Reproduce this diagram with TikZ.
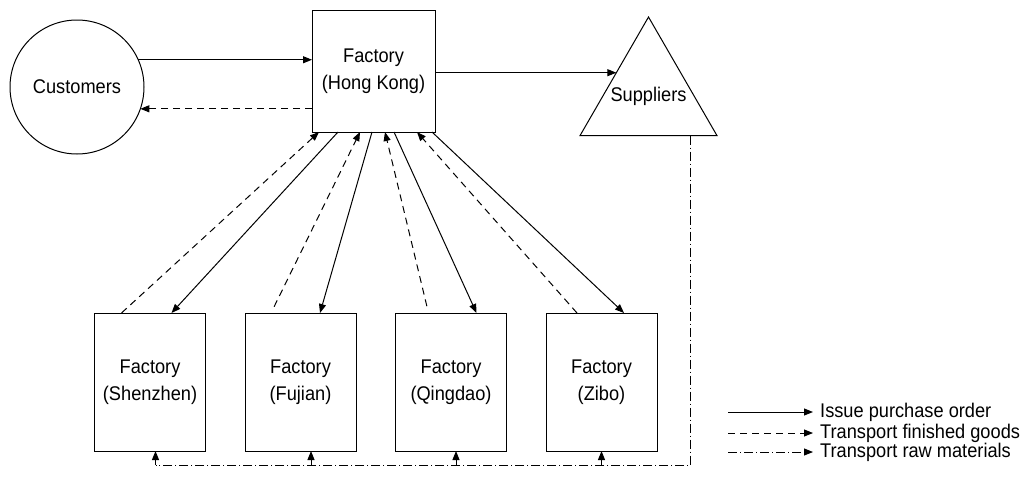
\documentclass[tikz,border=0pt]{standalone}
\usepackage{fontspec}
\setmainfont{Liberation Sans}[FakeStretch=0.92]
\usetikzlibrary{arrows.meta,shapes.geometric,calc}
\begin{document}
\begin{tikzpicture}[x=1pt,y=-1pt,
  every node/.style={font=\fontsize{19.8}{27}\selectfont},
  fbox/.style={draw,line width=1pt,minimum width=111pt,minimum height=138pt,inner sep=0pt,outer sep=0pt,align=center},
  poline/.style={line width=1pt,-{Triangle[length=9pt,width=7pt]}},
  fgline/.style={poline,dash pattern=on 7pt off 5pt},
  rmline/.style={line width=1pt,dash pattern=on 9pt off 3pt on 1pt off 3pt},
  rmarrow/.style={rmline,-{Triangle[length=9pt,width=7pt]}},
  legtext/.style={anchor=west,inner xsep=7pt,inner ysep=0pt}]
\useasboundingbox (0,0) rectangle (1024,479);

% main nodes
\node[circle,draw,line width=1pt,minimum size=134pt,inner sep=0pt,outer sep=0pt] (cust) at (77,87) {Customers};
\node[fbox,minimum width=123pt,minimum height=122pt] (hk) at (373.5,71) {Factory\\(Hong Kong)};
\node[regular polygon,regular polygon sides=3,draw,line width=1pt,minimum size=158pt,inner sep=0pt,outer sep=0pt,label={center:Suppliers}] (sup) at (648.5,96) {};

\node[fbox] (sz) at (150,382) {Factory\\(Shenzhen)};
\node[fbox] (fj) at (300.5,382) {Factory\\(Fujian)};
\node[fbox] (qd) at (451,382) {Factory\\(Qingdao)};
\node[fbox] (zb) at (601.5,382) {Factory\\(Zibo)};

% customers <-> HK
\draw[poline] (cust.24) -- (cust.24 -| hk.west);
\draw[fgline] (cust.-19 -| hk.west) -- (cust.-19);

% HK -> suppliers
\coordinate (supin) at ($(sup.corner 1)!0.47!(sup.corner 2)$);
\draw[poline] (hk.east |- supin) -- (supin);

% HK <-> factories
\draw[fgline] ([xshift=27pt]sz.north west) -- ([xshift=7pt]hk.south west);
\draw[poline] ([xshift=26pt]hk.south west) -- ([xshift=77pt]sz.north west);
\draw[fgline,shorten <=7pt] ([xshift=26pt]fj.north west) -- ([xshift=48pt]hk.south west);
\draw[poline] ([xshift=60pt]hk.south west) -- ([xshift=75pt]fj.north west);
\draw[fgline,shorten <=7pt] ([xshift=33pt]qd.north west) -- ([xshift=73pt]hk.south west);
\draw[poline] ([xshift=82pt]hk.south west) -- ([xshift=81pt]qd.north west);
\draw[fgline] ([xshift=31pt]zb.north west) -- ([xshift=105pt]hk.south west);
\draw[poline] ([xshift=120pt]hk.south west) -- ([xshift=78pt]zb.north west);

% raw materials
\coordinate (busL) at (155.5,465);
\coordinate (busR) at (690.5,465);
\draw[rmline] (busR |- sup.side 2) -- (busR) -- (busL);
\draw[rmarrow] ([xshift=5.5pt]sz.south |- busL) -- ([xshift=5.5pt]sz.south);
\draw[rmarrow] ([xshift=10.5pt]fj.south |- busL) -- ([xshift=10.5pt]fj.south);
\draw[rmarrow] ([xshift=5pt]qd.south |- busL) -- ([xshift=5pt]qd.south);
\draw[rmarrow] (zb.south |- busL) -- (zb.south);

% legend
\node[legtext] (lg1) at (813,412) {Issue purchase order};
\node[legtext] (lg2) at (813,433) {Transport finished goods};
\node[legtext] (lg3) at (813,452) {Transport raw materials};
\coordinate (lg1s) at (728,412);
\coordinate (lg2s) at (728,433);
\coordinate (lg3s) at (728,452);
\draw[poline] (lg1s) -- (lg1.west);
\draw[fgline] (lg2s) -- (lg2.west);
\draw[rmarrow] (lg3s) -- (lg3.west);
\end{tikzpicture}
\end{document}
